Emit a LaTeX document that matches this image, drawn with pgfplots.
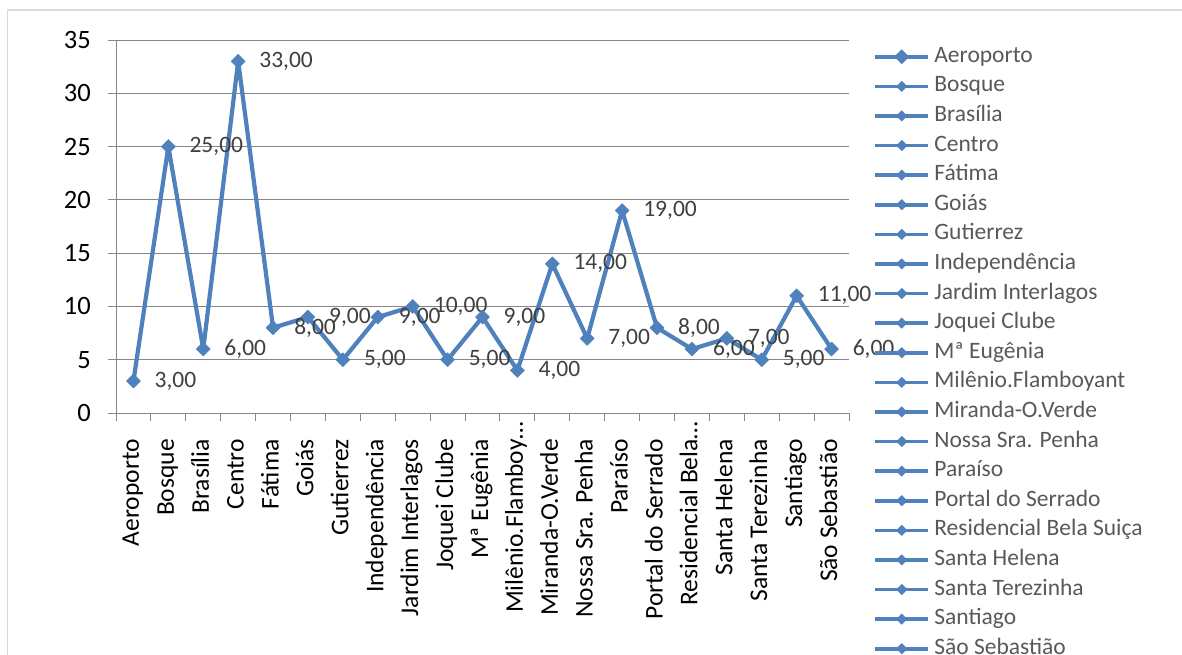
\documentclass[border=0pt]{standalone}
\usepackage{pgfplots}
\pgfplotsset{compat=1.18}
\usepackage{fontspec}
\setmainfont{Carlito}
\definecolor{sblue}{HTML}{4F81BD}
\definecolor{gridgray}{HTML}{878787}
\definecolor{lbl}{HTML}{404040}
\definecolor{leg}{HTML}{595959}
\definecolor{bordercol}{HTML}{D9D9D9}
\pgfplotsset{
  serie/.style={sblue, line width=4.2pt, line join=round, mark=square*, mark size=5pt, mark options={rotate=45, line width=0.4pt, solid, fill=sblue}},
  legserie/.style={sblue, line width=3.6pt, line join=round, mark=square*, mark size=3.7pt, mark options={rotate=45, line width=0.4pt, solid, fill=sblue}}
}
\begin{document}
\begin{tikzpicture}[x=1pt,y=1pt]
\useasboundingbox (0,0) rectangle (1182,654);
\clip (0,0) rectangle (1182,654);
\fill[white] (0,0) rectangle (1182,654);
\draw[bordercol, line width=1.5pt] (7.5,-5) -- (7.5,644) -- (1190,644);
\begin{axis}[
  at={(116pt,241pt)}, anchor=south west,
  scale only axis, width=733pt, height=373pt,
  xmin=-0.5, xmax=20.5, ymin=0, ymax=35,
  ytick={0,5,...,35},
  xtick={-0.5,0.5,...,20.5}, xticklabels={},
  extra x ticks={0,1,...,20},
  extra x tick labels={Aeroporto,Bosque,Brasília,Centro,Fátima,Goiás,Gutierrez,Independência,Jardim Interlagos,Joquei Clube,Mª Eugênia,{Milênio.Flamboy\rlap{…}},Miranda-O.Verde,Nossa Sra. Penha,Paraíso,Portal do Serrado,{Residencial Bela\rlap{…}},Santa Helena,Santa Terezinha,Santiago,São Sebastião},
  extra x tick style={major tick length=0pt},
  axis lines*=left,
  axis line style={gridgray, line width=1pt},
  tick align=outside, major tick length=8pt,
  tick style={gridgray, line width=1pt},
  ymajorgrids, grid style={gridgray, line width=1pt},
  /pgf/number format/assume math mode=true,
  yticklabel style={font=\fontsize{26.5}{30}\selectfont, inner sep=0pt, anchor=east, text=black},
  yticklabel shift=17pt,
  xticklabel style={font=\fontsize{25.5}{30}\selectfont, inner sep=0pt, rotate=90, anchor=east, text height=17pt, text depth=6pt, text=black},
  xticklabel shift=26pt,
  nodes near coords={\pgfmathprintnumber[fixed,fixed zerofill,precision=2,use comma,assume math mode=true]{\pgfplotspointmeta}},
  every node near coord/.append style={anchor=west, xshift=21pt, inner sep=0pt, font=\fontsize{23.5}{28}\selectfont, text=lbl},
  legend style={draw=none, fill=none, at={(axis description cs:1.0327,0.9866)}, anchor=north west, font=\fontsize{23.5}{28}\selectfont, text=leg, row sep=6.6pt, column sep=4pt, inner sep=0pt, nodes={inner sep=0pt, text height=17pt, text depth=6pt}},
  legend cell align=left,
  legend image code/.code={\draw[mark repeat=2, mark phase=2, #1] plot coordinates {(0pt,0pt) (26.5pt,0pt) (53pt,0pt)};},
]
\addplot[serie] coordinates {
(0,3) (1,25) (2,6) (3,33) (4,8) (5,9) (6,5) (7,9) (8,10) (9,5) (10,9)
(11,4) (12,14) (13,7) (14,19) (15,8) (16,6) (17,7) (18,5) (19,11) (20,6)};
\addlegendentry{Aeroporto}
\addlegendimage{legserie}\addlegendentry{Bosque}
\addlegendimage{legserie}\addlegendentry{Brasília}
\addlegendimage{legserie}\addlegendentry{Centro}
\addlegendimage{legserie}\addlegendentry{Fátima}
\addlegendimage{legserie}\addlegendentry{Goiás}
\addlegendimage{legserie}\addlegendentry{Gutierrez}
\addlegendimage{legserie}\addlegendentry{Independência}
\addlegendimage{legserie}\addlegendentry{Jardim Interlagos}
\addlegendimage{legserie}\addlegendentry{Joquei Clube}
\addlegendimage{legserie}\addlegendentry{Mª Eugênia}
\addlegendimage{legserie}\addlegendentry{Milênio.Flamboyant}
\addlegendimage{legserie}\addlegendentry{Miranda-O.Verde}
\addlegendimage{legserie}\addlegendentry{Nossa Sra. Penha}
\addlegendimage{legserie}\addlegendentry{Paraíso}
\addlegendimage{legserie}\addlegendentry{Portal do Serrado}
\addlegendimage{legserie}\addlegendentry{Residencial Bela Suiça}
\addlegendimage{legserie}\addlegendentry{Santa Helena}
\addlegendimage{legserie}\addlegendentry{Santa Terezinha}
\addlegendimage{legserie}\addlegendentry{Santiago}
\addlegendimage{legserie}\addlegendentry{São Sebastião}
\end{axis}
\end{tikzpicture}
\end{document}
